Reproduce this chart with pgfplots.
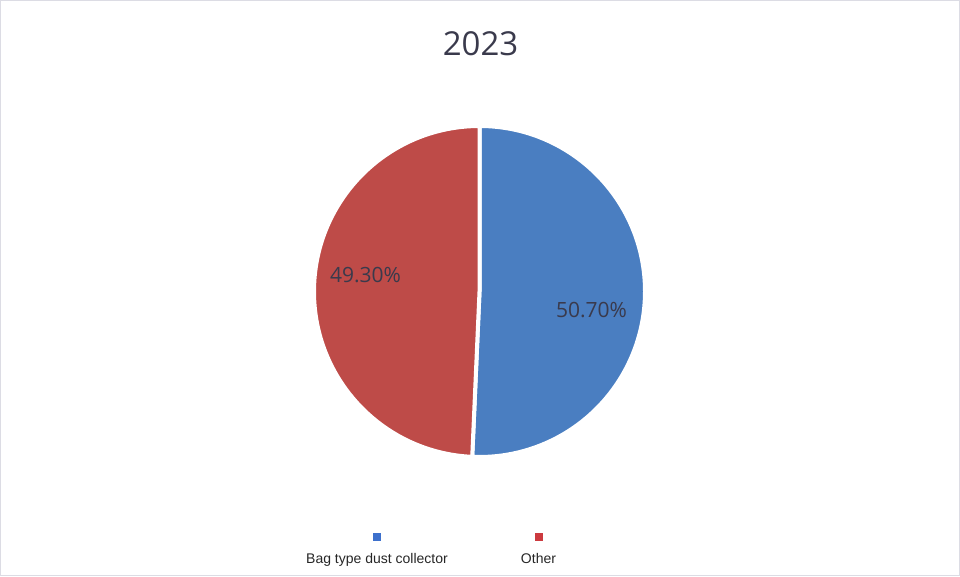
\documentclass[border=0pt]{standalone}
\usepackage{pgfplots}
\pgfplotsset{compat=1.18}
\usepackage{fontspec}
\setmainfont{Liberation Sans}
\newfontfamily\segoe{Open Sans}
\definecolor{pieblue}{HTML}{4A7EC1}
\definecolor{piered}{HTML}{BE4B48}
\definecolor{legblue}{HTML}{3D70CC}
\definecolor{legred}{HTML}{CC3A3F}
\definecolor{titlecol}{HTML}{3A3A4C}
\definecolor{framecol}{HTML}{DCDCE4}
\begin{document}
\begin{tikzpicture}
\begin{axis}[
  scale only axis, width=960bp, height=576bp,
  xmin=0, xmax=960, ymin=0, ymax=576,
  hide axis, clip=false,
]
% frame
\draw[framecol, line width=1.5bp] (axis cs:0.75,0.75) rectangle (axis cs:959.25,575.25);
% data: shares in percent
\def\va{50.7}\def\vb{49.3}
\def\cx{479.5}\def\cy{284.5}\def\r{165.5}
\pgfmathsetmacro\aend{90-3.6*\va}
\pgfmathsetmacro\bend{\aend-3.6*\vb}
\fill[pieblue, draw=white, line width=4bp] (axis cs:\cx,\cy) -- (axis cs:\cx,{\cy+\r}) arc[start angle=90, end angle=\aend, radius=\r bp] -- cycle;
\fill[piered, draw=white, line width=4bp] (axis cs:\cx,\cy) -- (axis cs:{\cx+\r*cos(\aend)},{\cy+\r*sin(\aend)}) arc[start angle=\aend, end angle=\bend, radius=\r bp] -- cycle;
% data labels
\node[anchor=base, font=\segoe\fontsize{21bp}{24bp}\selectfont, text=titlecol] at (axis cs:591.5,258) {50.70\%};
\node[anchor=base, font=\segoe\fontsize{21bp}{24bp}\selectfont, text=titlecol] at (axis cs:365.5,293.7) {49.30\%};
% title
\node[anchor=base, font=\segoe\fontsize{33bp}{36bp}\selectfont, text=titlecol] at (axis cs:480.5,520) {2023};
% legend
\addplot[only marks, mark=square*, mark size=3.6bp, color=legblue] coordinates {(376.5,39.5)};
\addplot[only marks, mark=square*, mark size=3.6bp, color=legred] coordinates {(538.5,39.5)};
\node[anchor=base, font=\fontsize{14bp}{16bp}\selectfont, text=black!85] at (axis cs:377,12.5) {Bag type dust collector};
\node[anchor=base, font=\fontsize{14bp}{16bp}\selectfont, text=black!85] at (axis cs:538.5,12.5) {Other};
\end{axis}
\end{tikzpicture}
\end{document}
